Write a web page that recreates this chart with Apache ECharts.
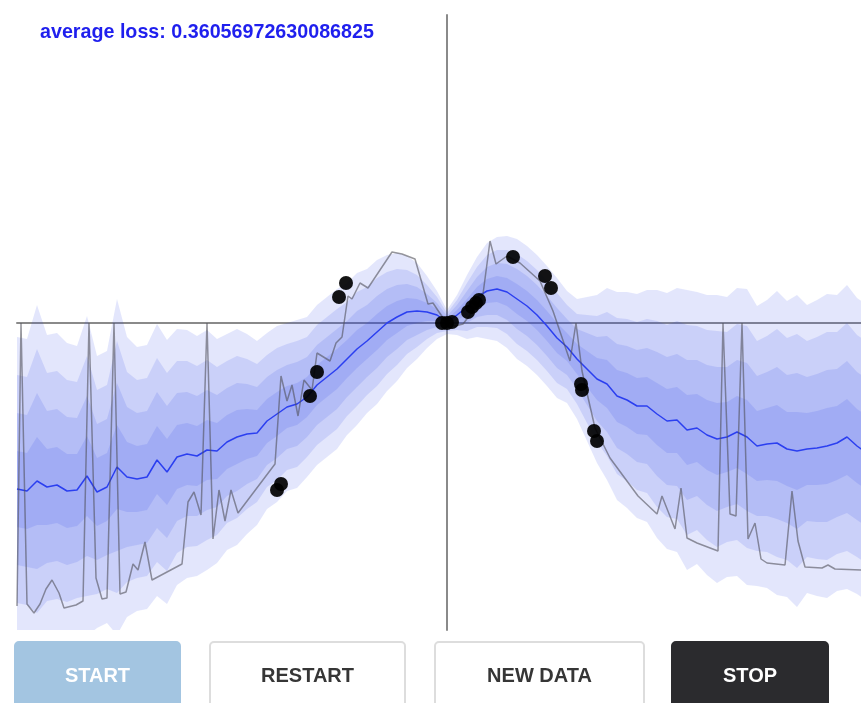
<!DOCTYPE html>
<html>
<head>
<meta charset="utf-8">
<script src="https://cdn.jsdelivr.net/npm/echarts@6/dist/echarts.min.js"></script>
<style>
html,body{margin:0;padding:0;background:#fff;}
#chart{width:861px;height:703px;}
</style>
</head>
<body>
<div id="chart"></div>
<script>
// ---- data ----
const titleText = 'average loss: 0.36056972630086825';

// x positions of the model prediction samples
const xs = [-4.3,-4.2,-4.1,-4.0,-3.9,-3.8,-3.7,-3.6,-3.5,-3.4,
-3.3,-3.2,-3.1,-3.0,-2.9,-2.8,-2.7,-2.6,-2.5,-2.4,
-2.3,-2.2,-2.1,-2.0,-1.9,-1.8,-1.7,-1.6,-1.5,-1.4,
-1.3,-1.2,-1.1,-1.0,-0.9,-0.8,-0.7,-0.6,-0.5,-0.4,
-0.3,-0.2,-0.1,0.0,0.1,0.2,0.3,0.4,0.5,0.6,
0.7,0.8,0.9,1.0,1.1,1.2,1.3,1.4,1.5,1.6,
1.7,1.8,1.9,2.0,2.1,2.2,2.3,2.4,2.5,2.6,
2.7,2.8,2.9,3.0,3.1,3.2,3.3,3.4,3.5,3.6,
3.7,3.8,3.9,4.0,4.1,4.2];

// predictive mean
const meanY = [-1.66,-1.68,-1.58,-1.64,-1.62,-1.68,-1.67,-1.53,-1.69,-1.64,
-1.44,-1.54,-1.56,-1.54,-1.37,-1.49,-1.34,-1.31,-1.33,-1.27,
-1.28,-1.19,-1.14,-1.11,-1.10,-0.98,-0.91,-0.84,-0.81,-0.74,
-0.62,-0.54,-0.46,-0.36,-0.26,-0.18,-0.09,0.00,0.06,0.11,
0.12,0.11,0.08,0.01,0.08,0.16,0.26,0.32,0.34,0.31,
0.24,0.17,0.08,-0.03,-0.15,-0.24,-0.36,-0.46,-0.56,-0.61,
-0.73,-0.77,-0.83,-0.83,-0.91,-0.98,-0.97,-1.07,-1.05,-1.12,
-1.16,-1.14,-1.09,-1.14,-1.23,-1.21,-1.20,-1.26,-1.28,-1.26,
-1.25,-1.23,-1.20,-1.14,-1.23,-1.30];

// predictive standard deviation
const sdY = [0.38,0.38,0.44,0.38,0.38,0.37,0.36,0.40,0.34,0.34,
0.42,0.35,0.33,0.33,0.34,0.33,0.32,0.31,0.30,0.30,
0.28,0.27,0.27,0.25,0.23,0.22,0.22,0.21,0.21,0.20,
0.20,0.20,0.20,0.19,0.19,0.18,0.18,0.17,0.16,0.14,
0.12,0.09,0.06,0.03,0.05,0.08,0.10,0.12,0.13,0.14,
0.15,0.15,0.15,0.15,0.15,0.14,0.15,0.18,0.21,0.24,
0.26,0.27,0.28,0.29,0.31,0.32,0.33,0.35,0.34,0.35,
0.36,0.35,0.36,0.37,0.35,0.36,0.38,0.37,0.39,0.36,
0.37,0.38,0.37,0.38,0.37,0.37];

// band widths in standard deviations
const bandLevels = [4, 3, 2, 1];

// sampled network output (grey line)
const sampleX = [-4.30,-4.26,-4.20,-4.13,-4.07,-4.01,-3.95,-3.88,-3.83,-3.71,
-3.64,-3.58,-3.51,-3.45,-3.40,-3.33,-3.27,-3.21,-3.14,-3.09,
-3.02,-2.95,-2.65,-2.59,-2.53,-2.46,-2.40,-2.34,-2.28,-2.22,
-2.16,-2.09,-1.72,-1.66,-1.60,-1.55,-1.49,-1.43,-1.35,-1.30,
-1.17,-1.11,-1.05,-0.99,-0.95,-0.87,-0.79,-0.55,-0.45,-0.32,
-0.19,-0.14,-0.02,0.08,0.16,0.30,0.36,0.43,0.49,0.60,
0.73,0.93,1.06,1.23,1.29,1.35,1.48,1.63,1.91,2.10,
2.15,2.28,2.34,2.40,2.50,2.71,2.76,2.83,2.89,2.95,
3.01,3.08,3.14,3.20,3.38,3.45,3.51,3.58,3.75,3.81,
3.88,4.15];
const sampleY = [-2.83,0.00,-2.81,-2.90,-2.81,-2.66,-2.57,-2.70,-2.85,-2.82,
-2.78,0.00,-2.55,-2.76,-2.75,0.00,-2.71,-2.69,-2.41,-2.47,
-2.19,-2.57,-2.41,-1.79,-1.69,-1.92,0.00,-2.16,-1.67,-1.98,
-1.67,-1.90,-1.41,-0.53,-0.78,-0.62,-0.93,-0.57,-0.67,-0.30,
-0.38,-0.20,-0.14,0.27,0.24,0.40,0.35,0.71,0.69,0.64,
0.19,0.20,0.02,-0.03,-0.01,0.17,0.29,0.82,0.59,0.67,
0.60,0.42,0.12,-0.38,0.00,-0.48,-1.05,-1.35,-1.73,-1.91,
-1.73,-2.06,-1.65,-2.15,-2.20,-2.28,0.00,-1.91,-1.93,0.00,
-2.16,-2.00,-2.36,-2.40,-2.42,-1.68,-2.18,-2.44,-2.45,-2.42,
-2.46,-2.47];

// training points
const pointX = [-1.70,-1.66,-1.37,-1.30,-1.08,-1.01,-0.05,0.00,0.05,0.21,
0.25,0.29,0.32,0.66,0.98,1.04,1.34,1.35,1.47,1.50];
const pointY = [-1.67,-1.61,-0.73,-0.49,0.26,0.40,0.00,0.00,0.01,0.11,
0.16,0.20,0.23,0.66,0.47,0.35,-0.61,-0.67,-1.08,-1.18];

// buttons
const buttonLabels = ['START', 'RESTART', 'NEW DATA', 'STOP'];

// ---- chart ----
const chart = echarts.init(document.getElementById('chart'), null, {renderer: 'canvas'});

const bandSeries = {
  type: 'custom',
  coordinateSystem: 'cartesian2d',
  clip: true,
  silent: true,
  z: 1,
  data: bandLevels.map(() => [0, 0]),
  renderItem: function (params, api) {
    const k = bandLevels[params.dataIndex];
    const pts = [];
    for (let i = 0; i < xs.length; i++) pts.push(api.coord([xs[i], meanY[i] + k * sdY[i]]));
    for (let i = xs.length - 1; i >= 0; i--) pts.push(api.coord([xs[i], meanY[i] - k * sdY[i]]));
    return {
      type: 'polygon',
      shape: {points: pts},
      style: {fill: 'rgba(40,60,235,0.13)', stroke: 'none'}
    };
  }
};

const btnGeom = [
  {x: 15, w: 165, fill: '#a3c5e1', stroke: '#a3c5e1', color: '#ffffff'},
  {x: 210, w: 195, fill: '#ffffff', stroke: '#dddddd', color: '#363636'},
  {x: 435, w: 209, fill: '#ffffff', stroke: '#dddddd', color: '#363636'},
  {x: 672, w: 156, fill: '#2b2b2e', stroke: '#2b2b2e', color: '#ffffff'}
];
const graphics = [];
buttonLabels.forEach((lab, i) => {
  const g = btnGeom[i];
  graphics.push({
    type: 'rect', silent: true,
    shape: {x: g.x, y: 642, width: g.w, height: 70, r: 4},
    style: {fill: g.fill, stroke: g.stroke, lineWidth: 2}
  });
  graphics.push({
    type: 'text', silent: true,
    style: {
      x: g.x + g.w / 2, y: 676, text: lab,
      fill: g.color,
      font: 'bold 20px "Liberation Sans", Arial, Helvetica, sans-serif',
      align: 'center', verticalAlign: 'middle',
      textAlign: 'center', textVerticalAlign: 'middle'
    }
  });
});
graphics.push({
  type: 'text', silent: true,
  style: {
    x: 40, y: 33, text: titleText,
    fill: '#1f1fee',
    font: 'bold 19.7px "Liberation Sans", Arial, Helvetica, sans-serif',
    align: 'left', verticalAlign: 'middle',
    textAlign: 'left', textVerticalAlign: 'middle'
  }
});

const option = {
  animation: false,
  backgroundColor: '#ffffff',
  grid: {left: 17, top: 15, right: 0, height: 615, containLabel: false},
  xAxis: {
    type: 'value', min: -4.3, max: 4.14,
    axisLine: {show: true, onZero: true, lineStyle: {color: '#8a8a8a', width: 2}},
    axisTick: {show: false}, axisLabel: {show: false}, splitLine: {show: false}
  },
  yAxis: {
    type: 'value', min: -3.07, max: 3.08,
    axisLine: {show: true, onZero: true, lineStyle: {color: '#8a8a8a', width: 2}},
    axisTick: {show: false}, axisLabel: {show: false}, splitLine: {show: false}
  },
  graphic: graphics,
  series: [
    bandSeries,
    {
      type: 'line', z: 3, symbol: 'none', silent: true,
      data: xs.map((x, i) => [x, meanY[i]]),
      lineStyle: {color: '#2b3ff0', width: 1.5}
    },
    {
      type: 'line', z: 4, symbol: 'none', silent: true,
      data: sampleX.map((x, i) => [x, sampleY[i]]),
      lineStyle: {color: 'rgba(80,80,90,0.6)', width: 1.5}
    },
    {
      type: 'scatter', z: 5, silent: true,
      symbolSize: 14,
      data: pointX.map((x, i) => [x, pointY[i]]),
      itemStyle: {color: '#000000', opacity: 0.92}
    }
  ]
};
chart.setOption(option);
</script>
</body>
</html>
